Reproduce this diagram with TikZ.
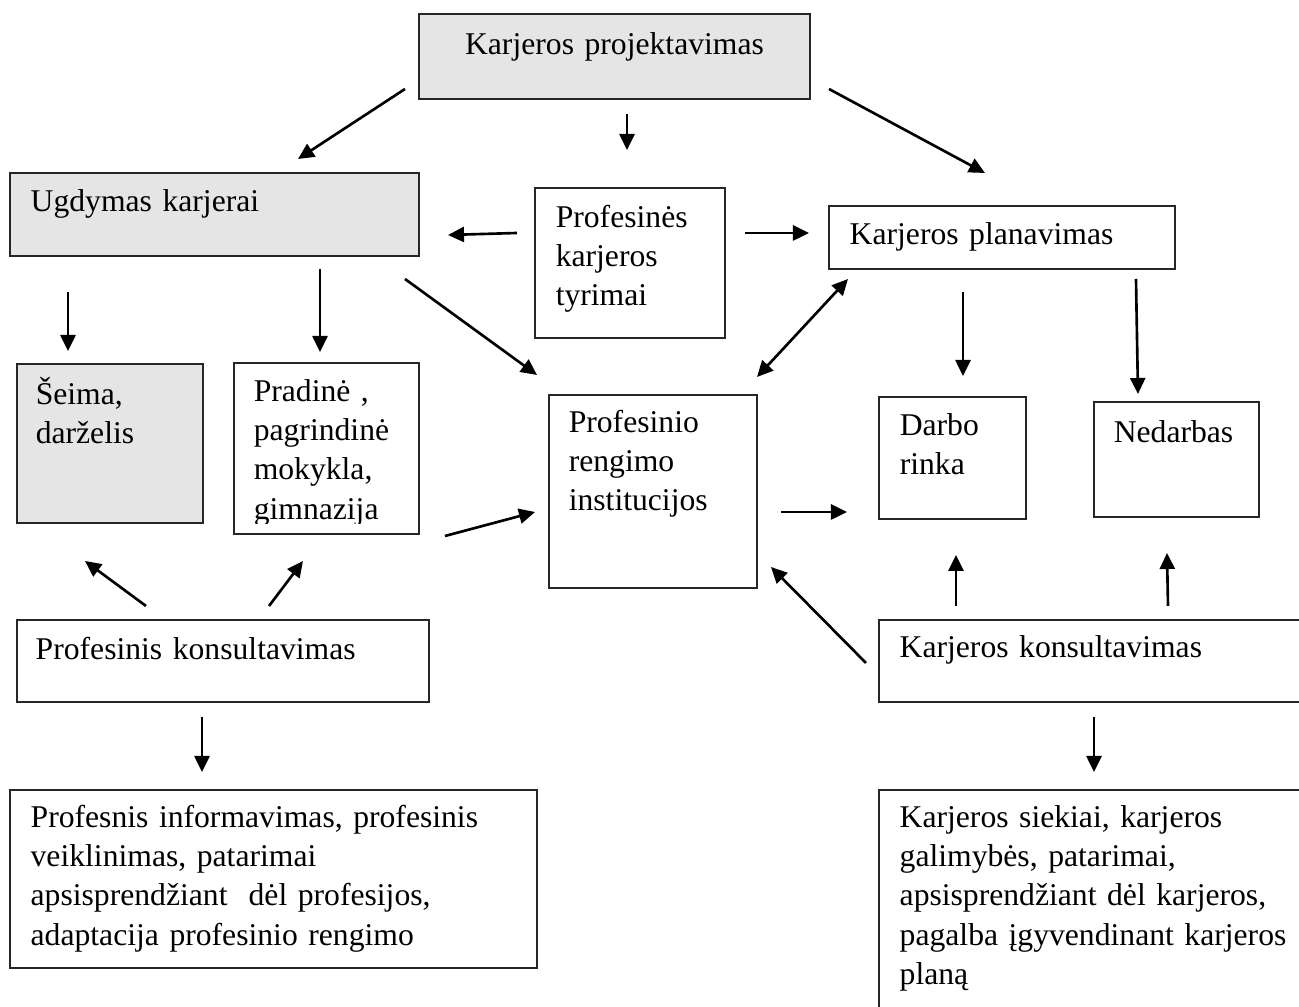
\documentclass[tikz,border=0pt]{standalone}
\usepackage{fontspec}
\setmainfont{Liberation Serif}
\usetikzlibrary{arrows.meta}

\begin{document}
\begin{tikzpicture}[x=0.01cm, y=-0.01cm,
			box/.style={rectangle, draw=black!85, line width=0.5pt, inner sep=0pt},
			greybox/.style={box, fill=gray!20},
			txt/.style={anchor=base west, align=left, inner sep=0pt, text width=#1, font=\fontsize{9}{11.2}\selectfont},
			txt/.default=3.8cm,
			link/.style={-{Triangle[length=0.16cm, width=0.15cm]}, line width=0.75pt},
			dlink/.style={{Triangle[length=0.16cm, width=0.15cm]}-{Triangle[length=0.16cm, width=0.15cm]}, line width=0.75pt}
			]
			\useasboundingbox (0,0) rectangle (1299,1007);
			\clip (0,0) rectangle (1299,1007);
			
			\node[greybox, minimum width=3.91cm, minimum height=0.85cm] (kp) at (614.5,56.5) {};
			\node[greybox, minimum width=4.09cm, minimum height=0.83cm] (ug) at (214.5,214.5) {};
			\node[box, minimum width=1.90cm, minimum height=1.50cm] (pkt) at (630,263) {};
			\node[box, minimum width=3.46cm, minimum height=0.63cm] (kpl) at (1002,237.5) {};
			\node[greybox, minimum width=1.86cm, minimum height=1.59cm] (seima) at (110,443.5) {};
			\node[box, minimum width=1.85cm, minimum height=1.71cm] (prad) at (326.5,448.5) {};
			\node[box, minimum width=2.08cm, minimum height=1.93cm] (pri) at (653,491.5) {};
			\node[box, minimum width=1.47cm, minimum height=1.22cm] (darbo) at (952.5,458) {};
			\node[box, minimum width=1.65cm, minimum height=1.15cm] (ned) at (1176.5,459.5) {};
			\node[box, minimum width=4.12cm, minimum height=0.82cm] (pk) at (223,661) {};
			\node[box, minimum width=4.51cm, minimum height=0.82cm] (kk) at (1104.5,661) {};
			\node[box, minimum width=5.27cm, minimum height=1.78cm] (bl) at (273.5,879) {};
			\node[box, minimum width=4.51cm, minimum height=2.50cm] (br) at (1104.5,915) {};
			
			\node[txt=3.2cm, anchor=base, align=center] (kptxt) at ([shift={(0,41)}]kp.north) {Karjeros projektavimas};
			\node[txt] (ugtxt) at ([shift={(21,39)}]ug.north west) {Ugdymas karjerai};
			\node[txt=1.6cm] (pkttxt) at ([shift={(21,40)}]pkt.north west) {Profesinės\\karjeros\\tyrimai};
			\node[txt=3.1cm] (kpltxt) at ([shift={(21,39)}]kpl.north west) {Karjeros planavimas};
			\node[txt=1.6cm] (seimatxt) at ([shift={(19,41)}]seima.north west) {Šeima,\\darželis};
			\begin{scope}
				\clip (prad.north west) rectangle ([shift={(0,-11)}]prad.south east);
				\node[txt=1.6cm] (pradtxt) at ([shift={(20,39)}]prad.north west) {Pradinė ,\\pagrindinė\\mokykla,\\gimnazija};
			\end{scope}
			\node[txt=1.8cm] (pritxt) at ([shift={(20,38)}]pri.north west) {Profesinio\\rengimo\\institucijos};
			\node[txt=1.2cm] (darbotxt) at ([shift={(21,39)}]darbo.north west) {Darbo\\rinka};
			\node[txt=1.4cm] (nedtxt) at ([shift={(20,41)}]ned.north west) {Nedarbas};
			\node[txt] (pktxt) at ([shift={(19,40)}]pk.north west) {Profesinis konsultavimas};
			\node[txt=3.9cm] (kktxt) at ([shift={(21,38)}]kk.north west) {Karjeros konsultavimas};
			\node[txt=4.9cm] (bltxt) at ([shift={(21,38)}]bl.north west) {Profesnis informavimas, profesinis\\veiklinimas, patarimai\\apsisprendžiant\ \ dėl profesijos,\\adaptacija profesinio rengimo};
			\node[txt=3.95cm] (brtxt) at ([shift={(21,38)}]br.north west) {Karjeros siekiai, karjeros\\galimybės, patarimai,\\apsisprendžiant dėl karjeros,\\pagalba įgyvendinant karjeros\\planą};
			
			\coordinate (kpug-a) at (405,89);      \coordinate (kpug-b) at (298,159);
			\coordinate (kppkt-a) at (627,114);    \coordinate (kppkt-b) at (627,150);
			\coordinate (kpkpl-a) at (829,89);     \coordinate (kpkpl-b) at (985,173);
			\coordinate (pktug-a) at (517,233);    \coordinate (pktug-b) at (448,235);
			\coordinate (pktkpl-a) at (745,233);   \coordinate (pktkpl-b) at (809,233);
			\coordinate (ugseima-a) at (68,292);   \coordinate (ugseima-b) at (68,351);
			\coordinate (ugprad-a) at (320,269);   \coordinate (ugprad-b) at (320,352);
			\coordinate (ugpri-a) at (405,279);    \coordinate (ugpri-b) at (537,375);
			\coordinate (kplpri-a) at (848,279);   \coordinate (kplpri-b) at (757,377);
			\coordinate (kpldarbo-a) at (963,292); \coordinate (kpldarbo-b) at (963,376);
			\coordinate (kplned-a) at (1136,279);  \coordinate (kplned-b) at (1138,394);
			\coordinate (pradpri-a) at (445,536);  \coordinate (pradpri-b) at (535,512);
			\coordinate (pridarbo-a) at (781,512); \coordinate (pridarbo-b) at (847,512);
			\coordinate (pkseima-a) at (146,606);  \coordinate (pkseima-b) at (85,561);
			\coordinate (pkprad-a) at (269,606);   \coordinate (pkprad-b) at (303,561);
			\coordinate (kkpri-a) at (866,663);    \coordinate (kkpri-b) at (771,567);
			\coordinate (kkdarbo-a) at (956,606);  \coordinate (kkdarbo-b) at (956,555);
			\coordinate (kkned-a) at (1168,606);   \coordinate (kkned-b) at (1167,553);
			\coordinate (pkbl-a) at (202,717);     \coordinate (pkbl-b) at (202,772);
			\coordinate (kkbr-a) at (1094,717);    \coordinate (kkbr-b) at (1094,772);
			
			\draw[link] (kpug-a) -- (kpug-b);
			\draw[link] (kppkt-a) -- (kppkt-b);
			\draw[link] (kpkpl-a) -- (kpkpl-b);
			\draw[link] (pktug-a) -- (pktug-b);
			\draw[link] (pktkpl-a) -- (pktkpl-b);
			\draw[link] (ugseima-a) -- (ugseima-b);
			\draw[link] (ugprad-a) -- (ugprad-b);
			\draw[link] (ugpri-a) -- (ugpri-b);
			\draw[dlink] (kplpri-a) -- (kplpri-b);
			\draw[link] (kpldarbo-a) -- (kpldarbo-b);
			\draw[link] (kplned-a) -- (kplned-b);
			\draw[link] (pradpri-a) -- (pradpri-b);
			\draw[link] (pridarbo-a) -- (pridarbo-b);
			\draw[link] (pkseima-a) -- (pkseima-b);
			\draw[link] (pkprad-a) -- (pkprad-b);
			\draw[link] (kkpri-a) -- (kkpri-b);
			\draw[link] (kkdarbo-a) -- (kkdarbo-b);
			\draw[link] (kkned-a) -- (kkned-b);
			\draw[link] (pkbl-a) -- (pkbl-b);
			\draw[link] (kkbr-a) -- (kkbr-b);
		\end{tikzpicture}
\end{document}
